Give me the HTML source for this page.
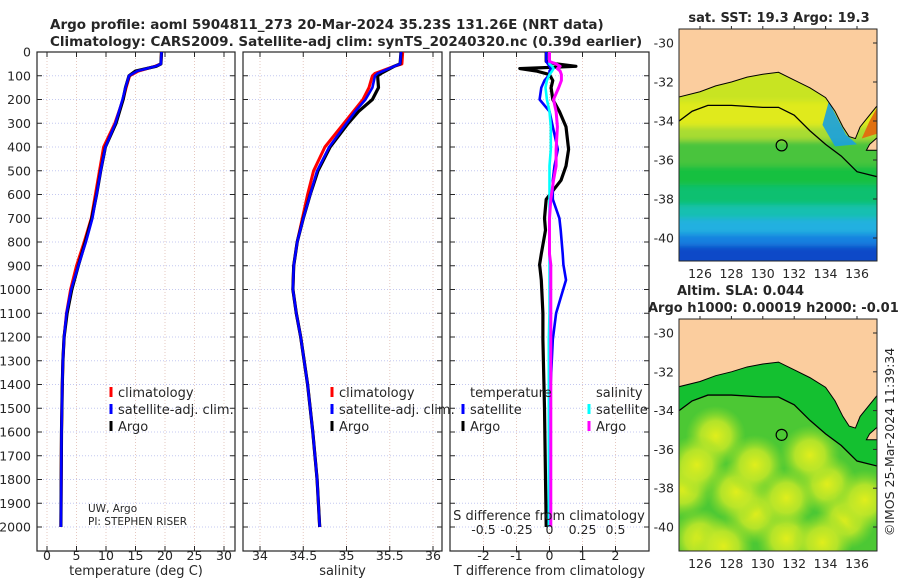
<!DOCTYPE html>
<html><head><meta charset="utf-8">
<style>
html,body{margin:0;padding:0;background:#fff;}
svg{display:block;font-family:"DejaVu Sans","Liberation Sans",sans-serif;}
</style></head>
<body>
<svg id="fig" width="900" height="580" viewBox="0 0 900 580" xmlns="http://www.w3.org/2000/svg">
<defs>
<clipPath id="clipT"><rect x="37" y="52" width="198" height="499"/></clipPath>
<clipPath id="clipS"><rect x="243" y="52" width="199" height="499"/></clipPath>
<clipPath id="clipD"><rect x="450" y="52" width="199" height="499"/></clipPath>
<clipPath id="clipM1"><rect x="679" y="29" width="198" height="232"/></clipPath>
<clipPath id="clipM2"><rect x="679" y="319" width="198" height="232"/></clipPath>
<radialGradient id="blob"><stop offset="0" stop-color="#e0ee1c" stop-opacity="1"/><stop offset="0.5" stop-color="#c4e828" stop-opacity="0.85"/><stop offset="1" stop-color="#90dc2c" stop-opacity="0"/></radialGradient>
<filter id="blur1"><feGaussianBlur stdDeviation="3"/></filter>
</defs>
<g id="root"></g>
</svg>
<script>
// ---- data ----
const depthT = [0, 50, 60, 80, 100, 150, 200, 300, 400, 500, 600, 700, 800, 900, 1000, 1100, 1200, 1300, 1400, 1600, 2000];
const argoT  = [19.4, 19.3, 18.5, 15, 13.9, 13.3, 12.9, 11.7, 9.9, 9.1, 8.4, 7.6, 6.5, 5.3, 4.2, 3.4, 2.9, 2.7, 2.6, 2.45, 2.35];
const climT  = [19.4, 19.3, 18.3, 15.5, 14.0, 13.4, 12.9, 11.5, 9.6, 8.9, 8.2, 7.5, 6.3, 5.0, 4.0, 3.3, 2.9, 2.7, 2.6, 2.45, 2.35];
const satT   = [19.4, 19.3, 18.4, 15.3, 13.9, 13.3, 12.8, 11.6, 9.9, 9.1, 8.4, 7.7, 6.6, 5.3, 4.1, 3.3, 2.9, 2.7, 2.6, 2.45, 2.35];

const depthS = [0, 50, 60, 90, 100, 150, 200, 250, 300, 400, 500, 600, 700, 800, 900, 1000, 1100, 1200, 1400, 1600, 1800, 2000];
const argoS  = [35.63, 35.62, 35.55, 35.40, 35.36, 35.37, 35.30, 35.14, 35.02, 34.81, 34.67, 34.58, 34.50, 34.43, 34.39, 34.38, 34.42, 34.47, 34.55, 34.61, 34.66, 34.69];
const climS  = [35.65, 35.64, 35.55, 35.33, 35.30, 35.26, 35.19, 35.08, 34.97, 34.75, 34.62, 34.55, 34.49, 34.43, 34.39, 34.38, 34.42, 34.47, 34.55, 34.61, 34.66, 34.69];
const satS   = [35.63, 35.62, 35.55, 35.36, 35.33, 35.30, 35.22, 35.10, 35.00, 34.80, 34.66, 34.58, 34.50, 34.43, 34.39, 34.38, 34.42, 34.47, 34.55, 34.61, 34.66, 34.69];

const depthD = [0, 40, 50, 60, 70, 80, 95, 120, 150, 200, 250, 315, 410, 480, 540, 620, 700, 750, 850, 895, 960, 1100, 1210, 1500, 2000];
const argoDT = [-0.1, -0.1, 0.2, 0.8, -0.9, -0.4, 0.0, 0.1, 0.05, 0.1, 0.3, 0.5, 0.58, 0.5, 0.35, -0.1, -0.15, -0.12, -0.25, -0.3, -0.25, -0.2, -0.2, -0.15, -0.1];
const satDT  = [-0.1, -0.1, -0.05, 0.0, 0.05, 0.0, 0.0, -0.15, -0.25, -0.3, 0.0, 0.1, 0.25, 0.15, 0.1, 0.1, 0.3, 0.34, 0.4, 0.42, 0.5, 0.2, 0.1, 0.0, 0.0];
const satDS  = [0.0, 0.0, 0.0, 0.02, 0.03, 0.02, 0.0, -0.02, -0.03, -0.02, 0.0, 0.01, 0.01, 0.0, 0.0, 0.0, 0.0, 0.0, 0.0, 0.0, 0.0, 0.0, -0.005, -0.005, -0.005];
const argoDS = [0.0, 0.0, 0.05, 0.08, 0.06, 0.08, 0.09, 0.09, 0.07, 0.03, 0.05, 0.06, 0.05, 0.05, 0.03, 0.01, 0.0, 0.0, 0.0, 0.01, 0.01, 0.01, 0.01, 0.01, 0.01];

const depthTicks = [0,100,200,300,400,500,600,700,800,900,1000,1100,1200,1300,1400,1500,1600,1700,1800,1900,2000];
const tTicks = [0,5,10,15,20,25,30];
const sTicks = [34,34.5,35,35.5,36];
const sTickLabels = ["34","34.5","35","35.5","36"];
const dtTicks = [-2,-1,0,1,2];
const dsTicks = [-0.5,-0.25,0,0.25,0.5];
const dsTickLabels = ["-0.5","-0.25","0","0.25","0.5"];
const latTicks = [-30,-32,-34,-36,-38,-40];
const lonTicks = [126,128,130,132,134,136];
const argoLon = [131.2];
const argoLat = [-35.25];

// ---- scales ----
const yD = d => 52 + d * 0.2375;
const xT = t => 47 + t * 5.9;
const xS = s => 260 + (s - 34) * 86.5;
const xDT = v => 549.5 + v * 33;
const xDS = v => 549.5 + v * 132;
const lonX = lon => 700 + (lon - 126) * 15.7;
const latY1 = lat => 43 + (-30 - lat) * 19.5;
const latY2 = lat => 333 + (-30 - lat) * 19.4;

const NS = "http://www.w3.org/2000/svg";
const root = document.getElementById('root');
function mk(tag, attrs, parent) {
  const e = document.createElementNS(NS, tag);
  for (const k in attrs) e.setAttribute(k, attrs[k]);
  (parent || root).appendChild(e);
  return e;
}
function txt(x, y, s, size, anchor, weight, parent) {
  const t = mk('text', {x: x, y: y, 'font-size': size, 'text-anchor': anchor || 'start', fill: '#262626', 'font-weight': weight || 'normal'}, parent);
  t.textContent = s;
  return t;
}

// ---- titles ----
let t;
t = txt(50, 29, "Argo profile: aoml 5904811_273 20-Mar-2024 35.23S 131.26E (NRT data)", 13.5, 'start', 'bold');


t = txt(50, 46, "Climatology: CARS2009. Satellite-adj clim: synTS_20240320.nc (0.39d earlier)", 13.5, 'start', 'bold');



// ---- panels ----
function panel(name, x0, x1, clipId, ticksX, labelsX, scaleX, xlabel) {
  const g = mk('g', {});
  
  
  depthTicks.forEach(d => {
    const l = mk('line', {x1: x0, x2: x1, y1: yD(d), y2: yD(d), stroke: '#c4c8f0', 'stroke-width': 1, 'stroke-dasharray': '1,2'}, g);
    
    
    const tk = mk('line', {x1: x0, x2: x0 + 5, y1: yD(d), y2: yD(d), stroke: '#262626'}, g);
    
    
    const tk2 = mk('line', {x1: x1 - 5, x2: x1, y1: yD(d), y2: yD(d), stroke: '#262626'}, g);
    
    
  });
  ticksX.forEach((v, i) => {
    const x = scaleX(v);
    const l = mk('line', {x1: x, x2: x, y1: 52, y2: 551, stroke: '#e6c8c0', 'stroke-width': 1, 'stroke-dasharray': '1,2'}, g);
    
    
    const tk = mk('line', {x1: x, x2: x, y1: 551, y2: 546, stroke: '#262626'}, g);
    
    
    const tk2 = mk('line', {x1: x, x2: x, y1: 52, y2: 57, stroke: '#262626'}, g);
    
    
    const lb = txt(x, 560, labelsX[i], 12.5, 'middle', 'normal', g);
    
    
  });
  const fr = mk('rect', {x: x0, y: 52, width: x1 - x0, height: 499, fill: 'none', stroke: '#262626', 'stroke-width': 1.2}, g);
  
  
  const xl = txt((x0 + x1) / 2, 575, xlabel, 13, 'middle', 'normal', g);
  
  
  return g;
}
function profile(g, depths, vals, sx, color, w, clip, name) {
  const d = depths.map((dd, i) => (i ? 'L' : 'M') + sx(vals[i]).toFixed(1) + ',' + yD(dd).toFixed(1)).join(' ');
  const p = mk('path', {d: d, fill: 'none', stroke: color, 'stroke-width': w, 'stroke-linejoin': 'round', 'stroke-linecap': 'butt', 'clip-path': 'url(#' + clip + ')'}, g);
  
  
}
function legend(g, x, y, color, label) {
  const b = mk('line', {x1: x, x2: x, y1: y - 10, y2: y, stroke: color, 'stroke-width': 3}, g);
  
  
  const l = txt(x + 7, y, label, 13, 'start', 'normal', g);
  
  
}

depthTicks.forEach(d => {
  const l = txt(31, yD(d) + 4.5, String(d), 12.5, 'end');
  
  
});

const g1 = panel('temperature-panel', 37, 235, 'clipT', tTicks, tTicks.map(String), xT, 'temperature (deg C)');
profile(g1, depthT, climT, xT, '#ff0000', 3, 'clipT', 'climatology-temperature-line');
profile(g1, depthT, argoT, xT, '#000000', 3.2, 'clipT', 'argo-temperature-line');
profile(g1, depthT, satT, xT, '#0000ff', 2.6, 'clipT', 'satellite-temperature-line');
legend(g1, 111, 397, '#ff0000', 'climatology');
legend(g1, 111, 414, '#0000ff', 'satellite-adj. clim.');
legend(g1, 111, 431, '#000000', 'Argo');
t = txt(88, 512, 'UW, Argo', 10.5, 'start', 'normal', g1);


t = txt(88, 525, 'PI: STEPHEN RISER', 10.5, 'start', 'normal', g1);



const g2 = panel('salinity-panel', 243, 442, 'clipS', sTicks, sTickLabels, xS, 'salinity');
profile(g2, depthS, climS, xS, '#ff0000', 3, 'clipS', 'climatology-salinity-line');
profile(g2, depthS, argoS, xS, '#000000', 3.2, 'clipS', 'argo-salinity-line');
profile(g2, depthS, satS, xS, '#0000ff', 2.6, 'clipS', 'satellite-salinity-line');
legend(g2, 332, 397, '#ff0000', 'climatology');
legend(g2, 332, 414, '#0000ff', 'satellite-adj. clim.');
legend(g2, 332, 431, '#000000', 'Argo');

const g3 = panel('difference-panel', 450, 649, 'clipD', dtTicks, dtTicks.map(String), xDT, 'T difference from climatology');
profile(g3, depthD, argoDT, xDT, '#000000', 3.2, 'clipD', 'argo-t-diff-line');
profile(g3, depthD, satDT, xDT, '#0000ff', 2.6, 'clipD', 'satellite-t-diff-line');
profile(g3, depthD, satDS, xDS, '#00ffff', 2.6, 'clipD', 'satellite-s-diff-line');
profile(g3, depthD, argoDS, xDS, '#ff00ff', 3, 'clipD', 'argo-s-diff-line');
t = txt(470, 397, 'temperature', 13, 'start', 'normal', g3);


t = txt(596, 397, 'salinity', 13, 'start', 'normal', g3);


legend(g3, 463, 414, '#0000ff', 'satellite');
legend(g3, 463, 431, '#000000', 'Argo');
legend(g3, 589, 414, '#00ffff', 'satellite');
legend(g3, 589, 431, '#ff00ff', 'Argo');
t = txt(549, 520, 'S difference from climatology', 13, 'middle', 'normal', g3);


dsTicks.forEach((v, i) => {
  const l = txt(xDS(v), 534, dsTickLabels[i], 12.5, 'middle', 'normal', g3);
  
  
});

// ---- maps ----
const coast = [[124.5,-32.8],[126,-32.5],[127,-32.2],[128,-32.0],[129,-31.75],[130,-31.6],[131,-31.5],[132,-31.9],[133,-32.3],[134,-32.8],[134.6,-33.5],[135.1,-34.3],[135.5,-34.8],[135.9,-34.9],[136.2,-34.3],[136.7,-33.8],[137.5,-33.0],[137.5,-29],[124.5,-29]];
const yorke = [[137.5,-34.7],[136.8,-35.2],[136.6,-35.5],[137.5,-35.5]];
const shelf = [[124.5,-34.1],[125.5,-33.5],[126.5,-33.2],[128,-33.2],[130,-33.3],[131,-33.3],[132,-33.7],[133,-34.5],[134,-35.2],[135,-35.8],[136,-36.6],[137.5,-36.9]];
const slaBlobs = [[127,-35.3],[129.5,-39.3],[134.1,-37.8],[124.9,-38],[135.3,-39.6],[128.3,-38.2],[126,-40.6],[131.5,-40.6],[133,-36.3],[125.8,-36.8],[129.5,-36.8],[131.5,-38.5],[136.5,-38.6],[127.5,-41],[133.8,-40.8]];
const sstBands = [[-29,'#c8e424'],[-33.0,'#e0ea1c'],[-34.3,'#a8dc30'],[-35.0,'#48c43c'],[-36.3,'#14c040'],[-37.3,'#10c070'],[-38.3,'#14c0b0'],[-39.0,'#20b0e0'],[-39.8,'#1880e0'],[-40.4,'#1048c8'],[-41.5,'#1038b8']];

function map(name, top, latY, clip, sub) {
  const g = mk('g', {});
  
  
  const cg = mk('g', {'clip-path': 'url(#' + clip + ')'}, g);
  if (sub === 'sst') {
    const bg = mk('g', {filter: 'url(#blur1)'}, cg);
    for (let i = 0; i < sstBands.length - 1; i++) {
      const y0 = latY(sstBands[i][0]), y1 = latY(sstBands[i + 1][0]);
      const r = mk('rect', {x: 670, y: y0, width: 220, height: y1 - y0 + 1, fill: sstBands[i][1]}, bg);
      
      
    }
    const w = mk('polygon', {points: [[134.2,-33.0],[135.3,-34.7],[136,-35.2],[134.6,-35.3],[133.8,-34.2]].map(p => lonX(p[0]) + ',' + latY(p[1])).join(' '), fill: '#18a0e0', opacity: 0.9}, cg);
    
    
    const hot = mk('polygon', {points: [[136.3,-34.9],[136.8,-34.0],[137.5,-33.0],[137.5,-34.6]].map(p => lonX(p[0]) + ',' + latY(p[1])).join(' '), fill: '#e07010'}, cg);
    
    
  } else {
    const r = mk('rect', {x: 679, y: top, width: 198, height: 232, fill: '#4cc834'}, cg);
    
    
    slaBlobs.forEach(b => {
      const c = mk('circle', {cx: lonX(b[0]), cy: latY(b[1]), r: 30, fill: 'url(#blob)'}, cg);
      
      
    });
    const sh = mk('polygon', {points: shelf.map(p => lonX(p[0]) + ',' + latY(p[1])).concat(coast.slice(0, 17).reverse().map(p => lonX(p[0]) + ',' + latY(p[1]))).join(' '), fill: '#14c030'}, cg);
    
    
  }
  const land = mk('polygon', {points: coast.map(p => lonX(p[0]) + ',' + latY(p[1])).join(' '), fill: '#fbcd9e', stroke: '#000', 'stroke-width': 1}, cg);
  
  
  const yk = mk('polygon', {points: yorke.map(p => lonX(p[0]) + ',' + latY(p[1])).join(' '), fill: '#fbcd9e', stroke: '#000', 'stroke-width': 1}, cg);
  
  
  const sh = mk('polyline', {points: shelf.map(p => lonX(p[0]) + ',' + latY(p[1])).join(' '), fill: 'none', stroke: '#000', 'stroke-width': 1.3}, cg);
  
  
  argoLon.forEach((lo, i) => {
    const c = mk('circle', {cx: lonX(lo), cy: latY(argoLat[i]), r: 5.5, fill: 'none', stroke: '#000', 'stroke-width': 1.2}, g);
    
    
  });
  const fr = mk('rect', {x: 679, y: top, width: 198, height: 232, fill: 'none', stroke: '#262626', 'stroke-width': 1}, g);
  
  
  latTicks.forEach(lat => {
    const y = latY(lat);
    const l = txt(674, y + 4.5, String(lat), 12.5, 'end', 'normal', g);
    
    
    const tk = mk('line', {x1: 873, x2: 877, y1: y, y2: y, stroke: '#262626'}, g);
    
    
  });
  lonTicks.forEach(lo => {
    const x = lonX(lo);
    const l = txt(x, top + 249, String(lo), 12.5, 'middle', 'normal', g);
    
    
    const tk = mk('line', {x1: x, x2: x, y1: top - 3, y2: top, stroke: '#262626'}, g);
    
    
  });
  return g;
}
map('sst-map', 29, latY1, 'clipM1', 'sst');
map('sla-map', 319, latY2, 'clipM2', 'sla');
t = txt(779, 22, 'sat. SST: 19.3 Argo: 19.3', 13, 'middle', 'bold');


t = txt(677, 295, 'Altim. SLA: 0.044', 13, 'start', 'bold');


t = txt(648, 312, 'Argo h1000: 0.00019 h2000: -0.01', 13, 'start', 'bold');


t = txt(0, 0, '©IMOS 25-Mar-2024 11:39:34', 12.5, 'middle');
t.setAttribute('transform', 'translate(894,442) rotate(-90)');


</script>
</body></html>
